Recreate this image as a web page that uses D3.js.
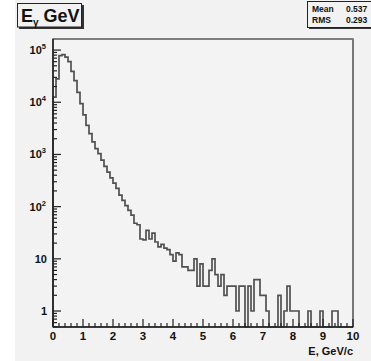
<!DOCTYPE html>
<html><head><meta charset="utf-8">
<script src="https://cdn.jsdelivr.net/npm/d3@7"></script>
<style>
body{margin:0;background:#fff}
svg{display:block}
text{font-family:"Liberation Sans",Arial,Helvetica,sans-serif;font-weight:bold;fill:#111}
</style>
</head><body>
<svg id="c" width="371" height="361"></svg>
<script>
// Photon energy spectrum, 100 bins of 0.1 GeV between 0 and 10 GeV
const binLow = 0;
const binHigh = 10;
const counts = [
  12500, 28000, 78000, 82000, 73000, 60000, 39000, 26000, 15500, 9400,
  5750, 3600, 2500, 1740, 1290, 1040, 776, 589, 457, 355,
  282, 224, 166, 132, 105, 85, 69, 48, 45, 24,
  23, 35, 24, 31, 21, 17, 19, 16, 15, 12,
  9, 13, 12, 7, 7, 6, 6, 10, 3, 8,
  3, 3, 6, 10, 5, 3, 5, 2, 3, 3,
  3, 1, 3, 3, 0, 3, 1, 4, 4, 2,
  2, 1, 0, 0, 0, 2, 0, 1, 3, 1,
  1, 1, 0, 0, 0, 1, 0, 0, 0, 1,
  0, 0, 0, 1, 1, 0, 0, 0, 0, 0
];
const xTickLabels = ["0","1","2","3","4","5","6","7","8","9","10"];
const yDecadeExps = [0, 1, 2, 3, 4, 5];
const statNames = ["Mean", "RMS"];
const statValues = ["0.537", "0.293"];
const titleMain = "E";
const titleSub = "\u03b3";
const titleRest = " GeV";
const xAxisTitle = "E, GeV/c";

const svg = d3.select("#c");
const W = 371, H = 361;
const frame = {l: 53, r: 353, t: 39, b: 327};

// canvas
svg.append("rect").attr("x", 0).attr("y", 0).attr("width", W).attr("height", H).attr("fill", "#fff");
svg.append("rect").attr("x", 15).attr("y", 0).attr("width", W - 15).attr("height", H).attr("fill", "#f2f2f2");

const x = d3.scaleLinear().domain([binLow, binHigh]).range([frame.l, frame.r]);
const y = d3.scaleLog().domain([0.494, 1.63e5]).range([frame.b, frame.t]);

// frame
svg.append("rect").attr("x", frame.l).attr("y", frame.t)
  .attr("width", frame.r - frame.l).attr("height", frame.b - frame.t)
  .attr("fill", "#f3f3f3").attr("stroke", "#333").attr("stroke-width", 1.2);
svg.append("line").attr("x1", frame.r).attr("x2", frame.r).attr("y1", frame.t).attr("y2", frame.b)
  .attr("stroke", "#777").attr("stroke-width", 2);

// histogram outline
const bw = (binHigh - binLow) / counts.length;
const yv = c => c > 0 ? y(c) : frame.b;
let d = `M${x(binLow)},${frame.b}`;
counts.forEach((c, i) => {
  d += `V${yv(c)}H${x(binLow + (i + 1) * bw)}`;
});
d += `V${frame.b}`;
svg.append("path").attr("d", d).attr("fill", "none")
  .attr("stroke", "#505050").attr("stroke-width", 1.7).attr("stroke-linejoin", "miter");

// y axis: log ticks, drawn inward
const yAxisG = svg.append("g");
yAxisG.append("line").attr("x1", frame.l).attr("x2", frame.l).attr("y1", frame.t).attr("y2", frame.b)
  .attr("stroke", "#222").attr("stroke-width", 1.5);
const [y0, y1] = y.domain();
for (let e = Math.floor(Math.log10(y0)); e <= Math.ceil(Math.log10(y1)); e++) {
  for (let k = 1; k <= 9; k++) {
    const v = k * Math.pow(10, e);
    if (v < y0 || v > y1) continue;
    const len = k === 1 ? 8 : 4;
    yAxisG.append("line").attr("x1", frame.l).attr("x2", frame.l + len)
      .attr("y1", y(v)).attr("y2", y(v)).attr("stroke", "#222").attr("stroke-width", 1.2);
  }
}
yDecadeExps.forEach(e => {
  const yy = y(Math.pow(10, e));
  if (e === 0) {
    yAxisG.append("text").attr("x", 47).attr("y", yy + 4).attr("text-anchor", "end")
      .attr("font-size", 11).text("1");
  } else if (e === 1) {
    yAxisG.append("text").attr("x", 47).attr("y", yy + 4).attr("text-anchor", "end")
      .attr("font-size", 11).text("10");
  } else {
    const t = yAxisG.append("text").attr("x", 46).attr("y", yy + 4).attr("text-anchor", "end")
      .attr("font-size", 11);
    t.append("tspan").text("10");
    t.append("tspan").attr("dy", -5).attr("font-size", 7.5).text(String(e));
  }
});

// x axis: ticks drawn upward
const xAxisG = svg.append("g");
xAxisG.append("line").attr("x1", frame.l).attr("x2", frame.r).attr("y1", frame.b).attr("y2", frame.b)
  .attr("stroke", "#222").attr("stroke-width", 1.5);
d3.range(0, 50 + 1).forEach(i => {
  const v = binLow + i * 0.2;
  const major = i % 5 === 0;
  xAxisG.append("line").attr("x1", x(v)).attr("x2", x(v))
    .attr("y1", frame.b).attr("y2", frame.b - (major ? 8 : 4))
    .attr("stroke", "#222").attr("stroke-width", 1.2);
});
xTickLabels.forEach((lab, i) => {
  xAxisG.append("text").attr("x", x(i)).attr("y", 340).attr("text-anchor", "middle")
    .attr("font-size", 11.5).text(lab);
});
svg.append("text").attr("x", frame.r).attr("y", 355).attr("text-anchor", "end")
  .attr("font-size", 11).text(xAxisTitle);

// title box with shadow
svg.append("rect").attr("x", 19).attr("y", 5).attr("width", 65).attr("height", 24).attr("fill", "#333");
svg.append("rect").attr("x", 17.5).attr("y", 3.5).attr("width", 64).attr("height", 23.5)
  .attr("fill", "#f2f2f2").attr("stroke", "#222").attr("stroke-width", 1);
const tt = svg.append("text").attr("x", 21).attr("y", 22).attr("font-size", 18);
tt.append("tspan").text(titleMain);
tt.append("tspan").attr("dy", 4).attr("font-size", 10).text(titleSub);
tt.append("tspan").attr("dy", -4).text(titleRest);

// statistics box
svg.append("rect").attr("x", 309).attr("y", 3).attr("width", 70).attr("height", 26).attr("fill", "#333");
svg.append("rect").attr("x", 307.5).attr("y", 1.5).attr("width", 70).attr("height", 26)
  .attr("fill", "#f2f2f2").attr("stroke", "#222").attr("stroke-width", 1);
statNames.forEach((n, i) => {
  svg.append("text").attr("x", 312).attr("y", 11.5 + i * 11.5).attr("font-size", 8.5).text(n);
  svg.append("text").attr("x", 346).attr("y", 11.5 + i * 11.5).attr("font-size", 8.5).text(statValues[i]);
});
</script>
</body></html>
